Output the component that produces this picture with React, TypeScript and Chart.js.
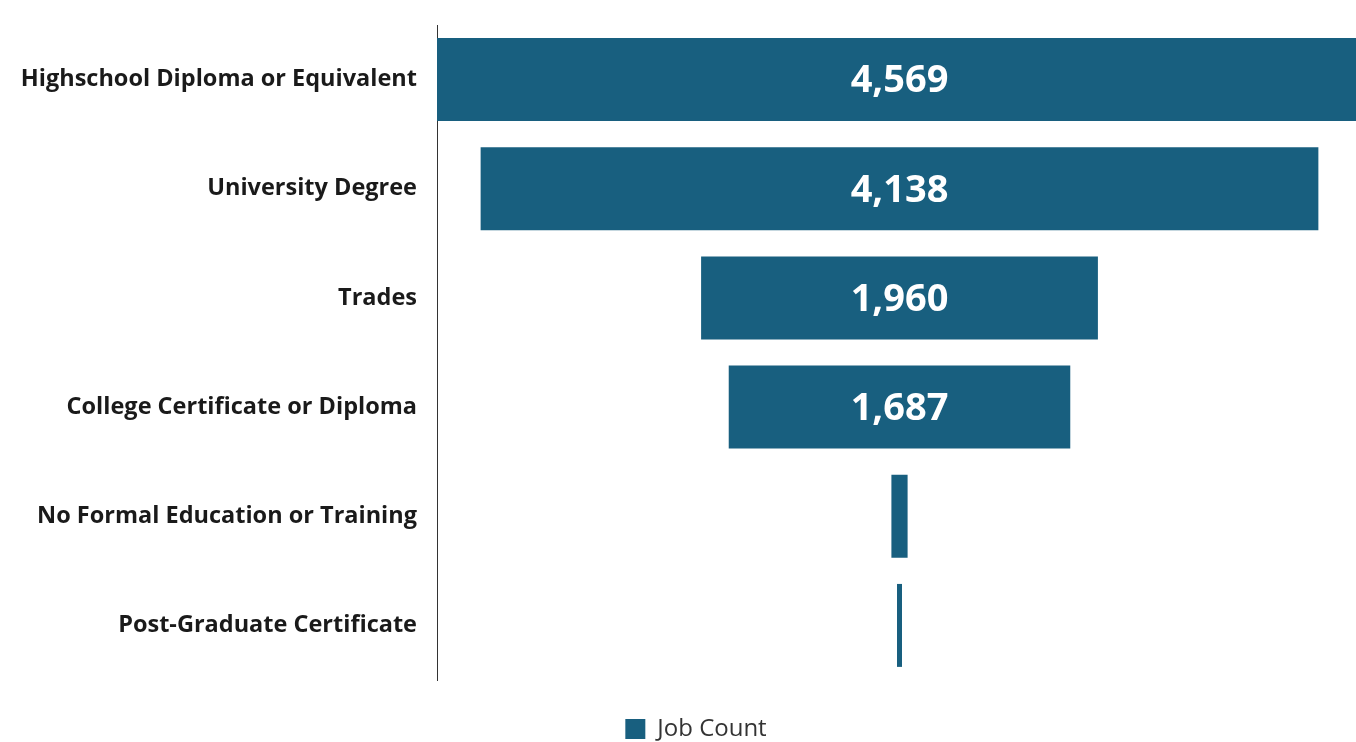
import React, { useEffect, useRef } from "react";
import { Chart, registerables } from "chart.js";

Chart.register(...registerables);

const categories = [
  "Highschool Diploma or Equivalent",
  "University Degree",
  "Trades",
  "College Certificate or Diploma",
  "No Formal Education or Training",
  "Post-Graduate Certificate",
];
const jobCounts = [4569, 4138, 1960, 1687, 80, 25];
const seriesName = "Job Count";
const barColor = "#185F7F";

const CANVAS_W = 1362;
const CANVAS_H = 742;

export default function App() {
  const ref = useRef<HTMLCanvasElement | null>(null);
  useEffect(() => {
    const maxV = Math.max(...jobCounts);
    const center = maxV / 2;
    const floating = jobCounts.map((v) => [center - v / 2, center + v / 2]);
    const labelPlugin = {
      id: "funnelLabels",
      afterDatasetsDraw(chart: any) {
        const ctx = chart.ctx;
        const meta = chart.getDatasetMeta(0);
        ctx.save();
        ctx.fillStyle = "#ffffff";
        ctx.font = "bold 38px 'Open Sans'";
        ctx.textAlign = "center";
        ctx.textBaseline = "middle";
        meta.data.forEach((bar: any, i: number) => {
          const v = jobCounts[i];
          if (v < 500) return;
          const { x, base, y } = bar.getProps(["x", "base", "y"], true);
          ctx.fillText(v.toLocaleString("en-US"), (x + base) / 2, y + 2);
        });
        ctx.restore();
      },
    };
    const legendPlugin = {
      id: "legendPlace",
      afterInit(chart: any) {
        const lg = chart.legend;
        if (!lg) return;
        const orig = lg.fit;
        lg.fit = function () {
          orig.call(this);
          this.height = 62;
        };
      },
      afterLayout(chart: any) {
        const lg = chart.legend;
        if (lg) lg.left += 10;
      },
    };
    const chart = new Chart(ref.current as HTMLCanvasElement, {
      type: "bar",
      data: {
        labels: categories,
        datasets: [
          {
            label: seriesName,
            data: floating as any,
            backgroundColor: barColor,
            borderWidth: 0,
            borderSkipped: false,
            barPercentage: 0.76,
            categoryPercentage: 1,
          },
        ],
      },
      options: {
        indexAxis: "y",
        animation: false,
        responsive: false,
        layout: { padding: { left: 20, right: 0, top: 25, bottom: 0 } },
        scales: {
          x: { display: false, min: 0, max: maxV },
          y: {
            grid: { display: false, drawTicks: true, tickLength: 17 },
            border: { display: true, color: "#333333", width: 1 },
            ticks: {
              padding: 3,
              color: "#1a1a1a",
              font: { family: "'Open Sans'", size: 23.5, weight: "bold" },
            },
            afterFit: (scale: any) => {
              scale.width = 417;
            },
          },
        },
        plugins: {
          tooltip: { enabled: false },
          legend: {
            position: "bottom",
            labels: {
              boxWidth: 20,
              boxHeight: 20,
              color: "#333333",
              padding: 37,
              font: { family: "'Open Sans'", size: 24 },
            },
          },
        },
      },
      plugins: [labelPlugin, legendPlugin],
    });
    return () => chart.destroy();
  }, []);
  return (
    <div
      style={{
        position: "fixed",
        left: 0,
        top: 0,
        width: 1356,
        height: 742,
        overflow: "hidden",
        background: "#fff",
      }}
    >
      <canvas ref={ref} width={CANVAS_W} height={CANVAS_H} style={{ display: "block" }} />
    </div>
  );
}
